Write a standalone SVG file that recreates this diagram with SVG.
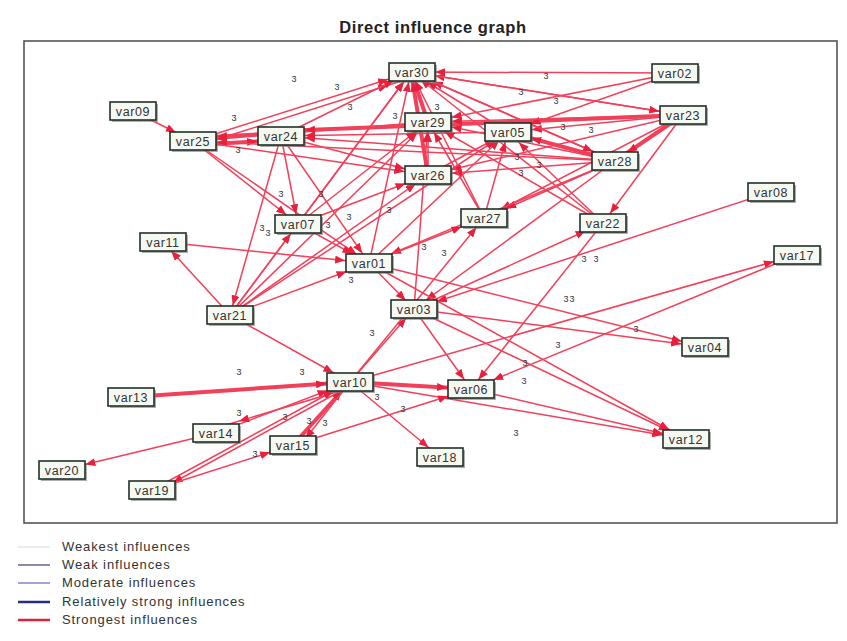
<svg xmlns="http://www.w3.org/2000/svg" width="847" height="641" viewBox="0 0 847 641">
<style>
.e{stroke:#f2405a;stroke-width:1.5;fill:none}
.t{stroke:#f2405a;stroke-width:4;fill:none}
.n rect.b{fill:#f6f9f2;stroke:#22302a;stroke-width:1.6}
.n rect.s{fill:#777;opacity:0.6}
.n text{font-family:"Liberation Sans",Arial,sans-serif;font-size:12.5px;letter-spacing:0.6px;fill:#333;text-anchor:middle}
.l{font-family:"Liberation Sans",Arial,sans-serif;font-size:9px;fill:#333;text-anchor:middle}
.lg{font-family:"Liberation Sans",Arial,sans-serif;font-size:13px;letter-spacing:0.9px;fill:#333}
</style>
<defs>
<marker id="a10" markerUnits="userSpaceOnUse" markerWidth="10" markerHeight="8" refX="20" refY="4" orient="auto"><path d="M0,0L10,4L0,8z" fill="#e8203c"/></marker>
<marker id="a12" markerUnits="userSpaceOnUse" markerWidth="10" markerHeight="8" refX="22" refY="4" orient="auto"><path d="M0,0L10,4L0,8z" fill="#e8203c"/></marker>
<marker id="a15" markerUnits="userSpaceOnUse" markerWidth="10" markerHeight="8" refX="25" refY="4" orient="auto"><path d="M0,0L10,4L0,8z" fill="#e8203c"/></marker>
<marker id="a19" markerUnits="userSpaceOnUse" markerWidth="10" markerHeight="8" refX="29" refY="4" orient="auto"><path d="M0,0L10,4L0,8z" fill="#e8203c"/></marker>
<marker id="a24" markerUnits="userSpaceOnUse" markerWidth="10" markerHeight="8" refX="34" refY="4" orient="auto"><path d="M0,0L10,4L0,8z" fill="#e8203c"/></marker>
</defs>
<rect width="847" height="641" fill="#ffffff"/>
<text x="433" y="33" font-family="Liberation Sans,Arial,sans-serif" font-size="16.5" letter-spacing="0.6" font-weight="bold" fill="#222" text-anchor="middle">Direct influence graph</text>
<rect x="24" y="41" width="813" height="482" fill="#ffffff" stroke="#555" stroke-width="1.6"/>
<g id="connectors">
<line class="e" x1="193" y1="141" x2="411" y2="72" marker-end="url(#a24)"/>
<line class="e" x1="193" y1="147" x2="411" y2="78" marker-end="url(#a24)"/>
<line class="e" x1="281" y1="136" x2="411" y2="72" marker-end="url(#a19)"/>
<line class="e" x1="133" y1="111" x2="193" y2="141" marker-end="url(#a19)"/>
<line class="e" x1="675" y1="73" x2="411" y2="72" marker-end="url(#a24)"/>
<line class="e" x1="683" y1="115" x2="411" y2="72" marker-end="url(#a24)"/>
<line class="e" x1="615" y1="161" x2="411" y2="72" marker-end="url(#a24)"/>
<line class="e" x1="508" y1="132" x2="411" y2="72" marker-end="url(#a19)"/>
<line class="t" x1="428" y1="122" x2="411" y2="72" marker-end="url(#a10)"/>
<line class="t" x1="428" y1="175" x2="411" y2="72" marker-end="url(#a10)"/>
<line class="e" x1="484" y1="218" x2="411" y2="72" marker-end="url(#a10)"/>
<line class="e" x1="369" y1="263" x2="411" y2="72" marker-end="url(#a10)"/>
<line class="e" x1="298" y1="224" x2="411" y2="72" marker-end="url(#a12)"/>
<line class="e" x1="230" y1="315" x2="411" y2="72" marker-end="url(#a12)"/>
<line class="e" x1="603" y1="223" x2="411" y2="72" marker-end="url(#a12)"/>
<line class="t" x1="281" y1="133" x2="193" y2="138" marker-end="url(#a24)"/>
<line class="t" x1="193" y1="145" x2="281" y2="140" marker-end="url(#a24)"/>
<line class="e" x1="428" y1="122" x2="193" y2="141" marker-end="url(#a24)"/>
<line class="e" x1="508" y1="132" x2="281" y2="136" marker-end="url(#a24)"/>
<line class="t" x1="683" y1="115" x2="281" y2="131" marker-end="url(#a24)"/>
<line class="e" x1="615" y1="161" x2="281" y2="136" marker-end="url(#a24)"/>
<line class="e" x1="615" y1="161" x2="193" y2="141" marker-end="url(#a24)"/>
<line class="e" x1="193" y1="141" x2="298" y2="224" marker-end="url(#a15)"/>
<line class="e" x1="193" y1="141" x2="369" y2="263" marker-end="url(#a15)"/>
<line class="e" x1="193" y1="141" x2="428" y2="175" marker-end="url(#a24)"/>
<line class="e" x1="281" y1="136" x2="428" y2="175" marker-end="url(#a24)"/>
<line class="e" x1="281" y1="136" x2="369" y2="263" marker-end="url(#a12)"/>
<line class="e" x1="281" y1="136" x2="230" y2="315" marker-end="url(#a10)"/>
<line class="e" x1="281" y1="136" x2="298" y2="224" marker-end="url(#a10)"/>
<line class="e" x1="675" y1="73" x2="508" y2="132" marker-end="url(#a24)"/>
<line class="e" x1="675" y1="73" x2="428" y2="122" marker-end="url(#a24)"/>
<line class="t" x1="683" y1="115" x2="615" y2="161" marker-end="url(#a15)"/>
<line class="e" x1="683" y1="115" x2="428" y2="122" marker-end="url(#a24)"/>
<line class="e" x1="683" y1="115" x2="508" y2="132" marker-end="url(#a24)"/>
<line class="e" x1="683" y1="115" x2="484" y2="218" marker-end="url(#a19)"/>
<line class="e" x1="683" y1="115" x2="603" y2="223" marker-end="url(#a12)"/>
<line class="e" x1="683" y1="115" x2="428" y2="175" marker-end="url(#a24)"/>
<line class="e" x1="411" y1="72" x2="683" y2="115" marker-end="url(#a24)"/>
<line class="e" x1="411" y1="72" x2="615" y2="161" marker-end="url(#a24)"/>
<line class="t" x1="615" y1="161" x2="508" y2="132" marker-end="url(#a24)"/>
<line class="e" x1="615" y1="161" x2="428" y2="122" marker-end="url(#a24)"/>
<line class="e" x1="615" y1="161" x2="428" y2="175" marker-end="url(#a24)"/>
<line class="e" x1="615" y1="161" x2="484" y2="218" marker-end="url(#a24)"/>
<line class="e" x1="615" y1="161" x2="414" y2="309" marker-end="url(#a15)"/>
<line class="e" x1="615" y1="161" x2="369" y2="263" marker-end="url(#a24)"/>
<line class="e" x1="603" y1="223" x2="508" y2="132" marker-end="url(#a15)"/>
<line class="e" x1="603" y1="223" x2="428" y2="122" marker-end="url(#a19)"/>
<line class="e" x1="603" y1="223" x2="471" y2="389" marker-end="url(#a12)"/>
<line class="e" x1="484" y1="218" x2="428" y2="122" marker-end="url(#a12)"/>
<line class="e" x1="484" y1="218" x2="508" y2="132" marker-end="url(#a10)"/>
<line class="e" x1="428" y1="175" x2="428" y2="122" marker-end="url(#a10)"/>
<line class="e" x1="428" y1="175" x2="508" y2="132" marker-end="url(#a15)"/>
<line class="e" x1="771" y1="192" x2="414" y2="309" marker-end="url(#a24)"/>
<line class="e" x1="350" y1="382" x2="797" y2="255" marker-end="url(#a24)"/>
<line class="e" x1="797" y1="255" x2="471" y2="389" marker-end="url(#a24)"/>
<line class="e" x1="414" y1="309" x2="705" y2="347" marker-end="url(#a24)"/>
<line class="e" x1="369" y1="263" x2="705" y2="347" marker-end="url(#a24)"/>
<line class="e" x1="414" y1="309" x2="686" y2="439" marker-end="url(#a19)"/>
<line class="e" x1="230" y1="315" x2="163" y2="242" marker-end="url(#a12)"/>
<line class="e" x1="163" y1="242" x2="369" y2="263" marker-end="url(#a24)"/>
<line class="e" x1="230" y1="315" x2="298" y2="224" marker-end="url(#a12)"/>
<line class="e" x1="230" y1="315" x2="369" y2="263" marker-end="url(#a24)"/>
<line class="e" x1="230" y1="315" x2="428" y2="122" marker-end="url(#a15)"/>
<line class="e" x1="230" y1="315" x2="428" y2="175" marker-end="url(#a15)"/>
<line class="e" x1="230" y1="315" x2="508" y2="132" marker-end="url(#a15)"/>
<line class="e" x1="230" y1="315" x2="350" y2="382" marker-end="url(#a19)"/>
<line class="e" x1="369" y1="263" x2="414" y2="309" marker-end="url(#a12)"/>
<line class="e" x1="369" y1="263" x2="484" y2="218" marker-end="url(#a24)"/>
<line class="e" x1="369" y1="263" x2="508" y2="132" marker-end="url(#a12)"/>
<line class="e" x1="369" y1="263" x2="686" y2="439" marker-end="url(#a19)"/>
<line class="e" x1="298" y1="224" x2="369" y2="263" marker-end="url(#a19)"/>
<line class="e" x1="298" y1="224" x2="428" y2="122" marker-end="url(#a15)"/>
<line class="e" x1="298" y1="224" x2="428" y2="175" marker-end="url(#a24)"/>
<line class="e" x1="414" y1="309" x2="603" y2="223" marker-end="url(#a19)"/>
<line class="e" x1="414" y1="309" x2="428" y2="122" marker-end="url(#a10)"/>
<line class="e" x1="414" y1="309" x2="471" y2="389" marker-end="url(#a12)"/>
<line class="e" x1="350" y1="382" x2="414" y2="309" marker-end="url(#a12)"/>
<line class="e" x1="350" y1="382" x2="484" y2="218" marker-end="url(#a12)"/>
<line class="t" x1="350" y1="382" x2="471" y2="389" marker-end="url(#a24)"/>
<line class="e" x1="350" y1="382" x2="440" y2="457" marker-end="url(#a15)"/>
<line class="e" x1="350" y1="382" x2="686" y2="439" marker-end="url(#a24)"/>
<line class="e" x1="471" y1="389" x2="686" y2="439" marker-end="url(#a24)"/>
<line class="t" x1="131" y1="397" x2="350" y2="382" marker-end="url(#a24)"/>
<line class="e" x1="216" y1="433" x2="350" y2="382" marker-end="url(#a24)"/>
<line class="e" x1="350" y1="388" x2="216" y2="428" marker-end="url(#a24)"/>
<line class="e" x1="216" y1="433" x2="62" y2="470" marker-end="url(#a24)"/>
<line class="e" x1="152" y1="490" x2="350" y2="382" marker-end="url(#a19)"/>
<line class="e" x1="350" y1="386" x2="156" y2="492" marker-end="url(#a19)"/>
<line class="e" x1="152" y1="490" x2="293" y2="445" marker-end="url(#a24)"/>
<line class="t" x1="293" y1="445" x2="350" y2="382" marker-end="url(#a12)"/>
<line class="e" x1="350" y1="382" x2="298" y2="448" marker-end="url(#a12)"/>
<line class="e" x1="293" y1="445" x2="471" y2="389" marker-end="url(#a24)"/>
</g>
<g id="labels">
<text class="l" x="294" y="82">3</text>
<text class="l" x="337" y="90">3</text>
<text class="l" x="350" y="110">3</text>
<text class="l" x="395" y="119">3</text>
<text class="l" x="437" y="110">3</text>
<text class="l" x="546" y="79">3</text>
<text class="l" x="521" y="95">3</text>
<text class="l" x="556" y="104">3</text>
<text class="l" x="234" y="121">3</text>
<text class="l" x="238" y="153">3</text>
<text class="l" x="563" y="130">3</text>
<text class="l" x="591" y="133">3</text>
<text class="l" x="517" y="160">3</text>
<text class="l" x="539" y="168">3</text>
<text class="l" x="521" y="176">3</text>
<text class="l" x="281" y="197">3</text>
<text class="l" x="321" y="197">3</text>
<text class="l" x="389" y="213">3</text>
<text class="l" x="349" y="220">3</text>
<text class="l" x="262" y="231">3</text>
<text class="l" x="268" y="236">3</text>
<text class="l" x="328" y="228">3</text>
<text class="l" x="424" y="250">3</text>
<text class="l" x="444" y="256">3</text>
<text class="l" x="351" y="283">3</text>
<text class="l" x="584" y="262">3</text>
<text class="l" x="596" y="262">3</text>
<text class="l" x="566" y="302">3</text>
<text class="l" x="572" y="302">3</text>
<text class="l" x="636" y="332">3</text>
<text class="l" x="558" y="348">3</text>
<text class="l" x="525" y="366">3</text>
<text class="l" x="524" y="384">3</text>
<text class="l" x="372" y="336">3</text>
<text class="l" x="239" y="375">3</text>
<text class="l" x="302" y="375">3</text>
<text class="l" x="377" y="400">3</text>
<text class="l" x="403" y="412">3</text>
<text class="l" x="516" y="436">3</text>
<text class="l" x="239" y="416">3</text>
<text class="l" x="285" y="420">3</text>
<text class="l" x="325" y="426">3</text>
<text class="l" x="309" y="424">3</text>
<text class="l" x="255" y="457">3</text>
</g>
<g id="var30" class="n"><rect class="s" x="391" y="65" width="46" height="18"/><rect class="b" x="389" y="63" width="46" height="18"/><text x="412" y="77">var30</text></g>
<g id="var02" class="n"><rect class="s" x="654" y="66" width="46" height="18"/><rect class="b" x="652" y="64" width="46" height="18"/><text x="675" y="78">var02</text></g>
<g id="var09" class="n"><rect class="s" x="112" y="104" width="46" height="18"/><rect class="b" x="110" y="102" width="46" height="18"/><text x="133" y="116">var09</text></g>
<g id="var25" class="n"><rect class="s" x="172" y="134" width="46" height="18"/><rect class="b" x="170" y="132" width="46" height="18"/><text x="193" y="146">var25</text></g>
<g id="var24" class="n"><rect class="s" x="260" y="129" width="46" height="18"/><rect class="b" x="258" y="127" width="46" height="18"/><text x="281" y="141">var24</text></g>
<g id="var29" class="n"><rect class="s" x="407" y="115" width="46" height="18"/><rect class="b" x="405" y="113" width="46" height="18"/><text x="428" y="127">var29</text></g>
<g id="var05" class="n"><rect class="s" x="487" y="125" width="46" height="18"/><rect class="b" x="485" y="123" width="46" height="18"/><text x="508" y="137">var05</text></g>
<g id="var23" class="n"><rect class="s" x="662" y="108" width="46" height="18"/><rect class="b" x="660" y="106" width="46" height="18"/><text x="683" y="120">var23</text></g>
<g id="var28" class="n"><rect class="s" x="594" y="154" width="46" height="18"/><rect class="b" x="592" y="152" width="46" height="18"/><text x="615" y="166">var28</text></g>
<g id="var26" class="n"><rect class="s" x="407" y="168" width="46" height="18"/><rect class="b" x="405" y="166" width="46" height="18"/><text x="428" y="180">var26</text></g>
<g id="var08" class="n"><rect class="s" x="750" y="185" width="46" height="18"/><rect class="b" x="748" y="183" width="46" height="18"/><text x="771" y="197">var08</text></g>
<g id="var07" class="n"><rect class="s" x="277" y="217" width="46" height="18"/><rect class="b" x="275" y="215" width="46" height="18"/><text x="298" y="229">var07</text></g>
<g id="var27" class="n"><rect class="s" x="463" y="211" width="46" height="18"/><rect class="b" x="461" y="209" width="46" height="18"/><text x="484" y="223">var27</text></g>
<g id="var22" class="n"><rect class="s" x="582" y="216" width="46" height="18"/><rect class="b" x="580" y="214" width="46" height="18"/><text x="603" y="228">var22</text></g>
<g id="var11" class="n"><rect class="s" x="142" y="235" width="46" height="18"/><rect class="b" x="140" y="233" width="46" height="18"/><text x="163" y="247">var11</text></g>
<g id="var01" class="n"><rect class="s" x="348" y="256" width="46" height="18"/><rect class="b" x="346" y="254" width="46" height="18"/><text x="369" y="268">var01</text></g>
<g id="var17" class="n"><rect class="s" x="776" y="248" width="46" height="18"/><rect class="b" x="774" y="246" width="46" height="18"/><text x="797" y="260">var17</text></g>
<g id="var21" class="n"><rect class="s" x="209" y="308" width="46" height="18"/><rect class="b" x="207" y="306" width="46" height="18"/><text x="230" y="320">var21</text></g>
<g id="var03" class="n"><rect class="s" x="393" y="302" width="46" height="18"/><rect class="b" x="391" y="300" width="46" height="18"/><text x="414" y="314">var03</text></g>
<g id="var04" class="n"><rect class="s" x="684" y="340" width="46" height="18"/><rect class="b" x="682" y="338" width="46" height="18"/><text x="705" y="352">var04</text></g>
<g id="var10" class="n"><rect class="s" x="329" y="375" width="46" height="18"/><rect class="b" x="327" y="373" width="46" height="18"/><text x="350" y="387">var10</text></g>
<g id="var06" class="n"><rect class="s" x="450" y="382" width="46" height="18"/><rect class="b" x="448" y="380" width="46" height="18"/><text x="471" y="394">var06</text></g>
<g id="var13" class="n"><rect class="s" x="110" y="390" width="46" height="18"/><rect class="b" x="108" y="388" width="46" height="18"/><text x="131" y="402">var13</text></g>
<g id="var14" class="n"><rect class="s" x="195" y="426" width="46" height="18"/><rect class="b" x="193" y="424" width="46" height="18"/><text x="216" y="438">var14</text></g>
<g id="var15" class="n"><rect class="s" x="272" y="438" width="46" height="18"/><rect class="b" x="270" y="436" width="46" height="18"/><text x="293" y="450">var15</text></g>
<g id="var18" class="n"><rect class="s" x="419" y="450" width="46" height="18"/><rect class="b" x="417" y="448" width="46" height="18"/><text x="440" y="462">var18</text></g>
<g id="var12" class="n"><rect class="s" x="665" y="432" width="46" height="18"/><rect class="b" x="663" y="430" width="46" height="18"/><text x="686" y="444">var12</text></g>
<g id="var20" class="n"><rect class="s" x="41" y="463" width="46" height="18"/><rect class="b" x="39" y="461" width="46" height="18"/><text x="62" y="475">var20</text></g>
<g id="var19" class="n"><rect class="s" x="131" y="483" width="46" height="18"/><rect class="b" x="129" y="481" width="46" height="18"/><text x="152" y="495">var19</text></g>
<g id="legend">
<line x1="18" y1="547" x2="50" y2="547" stroke="#ececf0" stroke-width="2"/>
<line x1="18" y1="565" x2="50" y2="565" stroke="#8a8aa8" stroke-width="2"/>
<line x1="18" y1="583" x2="50" y2="583" stroke="#a8a0d8" stroke-width="2"/>
<line x1="18" y1="602" x2="50" y2="602" stroke="#2a2a8a" stroke-width="2.5"/>
<line x1="18" y1="620" x2="50" y2="620" stroke="#e0203a" stroke-width="2.5"/>
<text class="lg" x="62" y="551">Weakest influences</text>
<text class="lg" x="62" y="569">Weak influences</text>
<text class="lg" x="62" y="587">Moderate influences</text>
<text class="lg" x="62" y="606">Relatively strong influences</text>
<text class="lg" x="62" y="624">Strongest influences</text>
</g>
</svg>
